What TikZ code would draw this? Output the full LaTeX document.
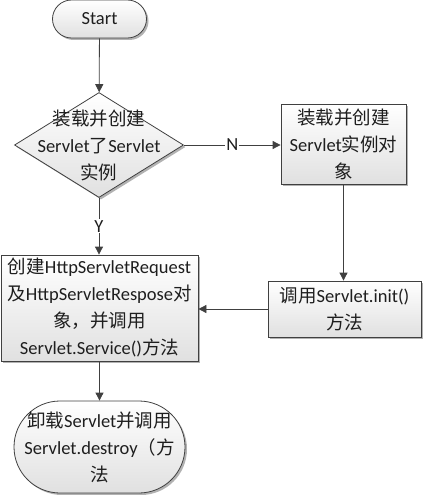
\documentclass[tikz,border=0pt]{standalone}
\usepackage{fontspec}
\setmainfont{Carlito}
\newfontfamily\cjk{Noto Sans CJK SC}
\newcommand{\zh}[1]{{\cjk #1}}
\usepackage{tikz}
\usetikzlibrary{arrows.meta,shapes.geometric,shadows,calc}
\definecolor{linegray}{RGB}{64,64,64}
\definecolor{textgray}{RGB}{30,30,30}

\tikzset{
	box/.style={draw=linegray, line width=0.8pt, rectangle, align=center, inner sep=2pt,
		top color=white, bottom color=black!12, text=textgray,
		drop shadow={shadow xshift=2pt, shadow yshift=-2pt, fill=black!30, opacity=1}},
	term/.style={box, rounded corners=#1},
	decision/.style={box, diamond, aspect=1.6},
	flow/.style={draw=linegray, line width=0.8pt, -{Triangle[length=8pt,width=8pt]}},
	flowlabel/.style={fill=white, inner sep=1pt, text=textgray}
}

\begin{document}
\begin{tikzpicture}[x=1pt, y=-1pt, font=\fontsize{18.5}{27}\selectfont]
	
	\useasboundingbox (0,0) rectangle (423,495);
	
	\node[term=19pt, minimum width=94pt, minimum height=38pt] (start) at (99.5,19) {Start};
	\node[decision, minimum width=169pt, minimum height=105pt,
		label={[align=center, text=textgray]center:\zh{装载并创建}\\Servlet\zh{了}Servlet\\\zh{实例}}] (dec) at (99,145) {};
	\node[box, minimum width=125pt, minimum height=80pt] (obj) at (343.5,144) {\zh{装载并创建}\\Servlet\zh{实例对}\\\zh{象}};
	\node[box, minimum width=153pt, minimum height=56pt] (init) at (344.5,309) {\zh{调用}Servlet.init()\\\zh{方法}};
	\node[box, minimum width=197pt, minimum height=106pt] (req) at (99.5,308) {\zh{创建}HttpServletRequest\\\zh{及}HttpServletRespose\zh{对}\\\zh{象，并调用}\\Servlet.Service()\zh{方法}};
	\node[term=46pt, minimum width=171pt, minimum height=92pt] (stop) at (99.5,447) {\zh{卸载}Servlet\zh{并调用}\\Servlet.destroy\zh{（方}\\\zh{法}};
	
	\draw[flow] (start) -- (dec);
	\draw[flow] (dec.east) -- node[flowlabel] {N} (dec.east -| obj.west);
	\draw[flow] (obj.south) -- (obj.south |- init.north);
	\draw[flow] (init.west) -- (init.west -| req.east);
	\draw[flow] (dec.south) -- node[flowlabel] {Y} (dec.south |- req.north);
	\draw[flow] (req) -- (stop);
	
\end{tikzpicture}
\end{document}
